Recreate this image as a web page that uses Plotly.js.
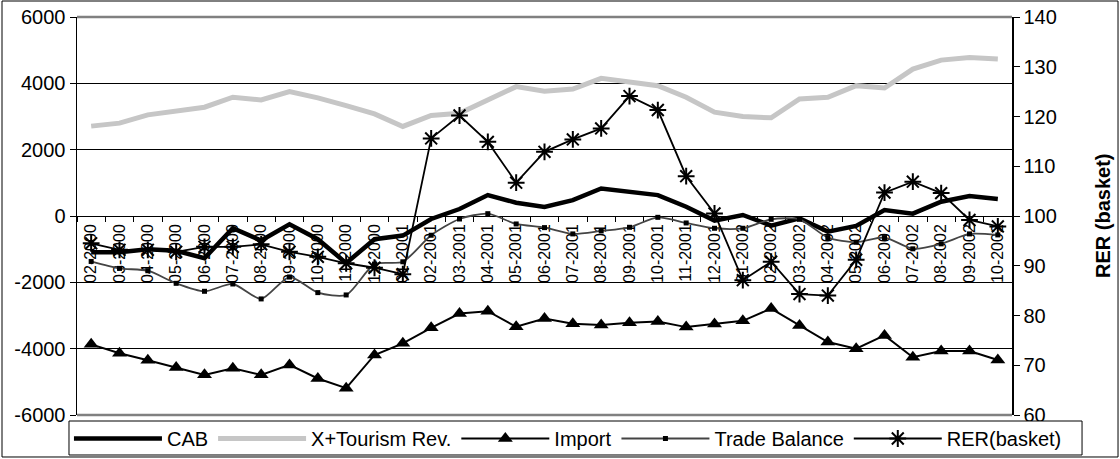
<!DOCTYPE html>
<html>
<head>
<meta charset="utf-8">
<script src="https://cdn.plot.ly/plotly-3.0.1.min.js"></script>
<style>html,body{margin:0;padding:0;background:#fff;}#chart{width:1120px;height:459px;}</style>
</head>
<body>
<div id="chart"></div>
<script>
const categories = ['02-2000','03-2000','04-2000','05-2000','06-2000','07-2000','08-2000','09-2000','10-2000','11-2000','12-2000',
  '01-2001','02-2001','03-2001','04-2001','05-2001','06-2001','07-2001','08-2001','09-2001','10-2001','11-2001','12-2001',
  '01-2002','02-2002','03-2002','04-2002','05-2002','06-2002','07-2002','08-2002','09-2002','10-2002'];
const cab = [-1090,-1090,-1000,-1050,-1270,-370,-740,-250,-700,-1420,-700,-590,-90,210,630,400,270,480,830,730,630,280,-140,30,-290,-70,-470,-300,180,70,430,600,510];
const xTourism = [2710,2800,3050,3150,3280,3580,3500,3750,3560,3330,3080,2700,3030,3100,3480,3900,3760,3830,4150,4030,3930,3580,3130,3000,2960,3530,3580,3930,3860,4430,4700,4780,4730];
const imports = [-3870,-4140,-4350,-4570,-4790,-4590,-4790,-4490,-4900,-5190,-4190,-3840,-3370,-2940,-2870,-3340,-3090,-3250,-3290,-3220,-3180,-3350,-3260,-3160,-2790,-3300,-3800,-4000,-3600,-4260,-4070,-4070,-4340];
const tradeBalance = [-1370,-1580,-1650,-2030,-2270,-2050,-2500,-1840,-2310,-2380,-1450,-1380,-580,-90,70,-240,-350,-540,-450,-340,-40,-210,-370,-370,-100,-100,-650,-790,-650,-990,-840,-540,-570];
const rer = [94.5,93.2,93.2,92.8,93.8,93.8,94.3,92.8,91.8,90.5,89.6,88.3,115.6,120.2,114.9,106.7,112.9,115.4,117.6,124.1,121.3,108.0,100.5,87.1,90.8,84.3,84.0,91.2,104.7,106.9,104.6,99.2,97.9];
const leftTickVals = [-6000,-4000,-2000,0,2000,4000,6000];
const leftTickText = ['-6000','-4000','-2000','0','2000','4000','6000'];
const rightTickVals = [60,70,80,90,100,110,120,130,140];
const rightTickText = ['60','70','80','90','100','110','120','130','140'];
const rightAxisTitle = 'RER (basket)';

const FONT = 'Liberation Sans, Arial, sans-serif';

const traces = [
  {x: categories, y: cab, name: 'CAB', type: 'scatter', mode: 'lines',
   line: {color: '#000', width: 4.5}},
  {x: categories, y: xTourism, name: 'X+Tourism Rev.', type: 'scatter', mode: 'lines',
   line: {color: '#c6c6c6', width: 5}},
  {x: categories, y: imports, name: 'Import', type: 'scatter', mode: 'lines+markers',
   line: {color: '#000', width: 2}, marker: {symbol: 'triangle-up', size: 13, color: '#000'}},
  {x: categories, y: tradeBalance, name: 'Trade Balance', type: 'scatter', mode: 'lines+markers',
   line: {color: '#444', width: 1.8, shape: 'spline', smoothing: 0.7},
   marker: {symbol: 'square', size: 5, color: '#000'}},
  {x: categories, y: rer, name: 'RER(basket)', type: 'scatter', mode: 'lines+markers', yaxis: 'y2',
   line: {color: '#000', width: 1.8},
   marker: {symbol: 'asterisk-open', size: 14, color: '#000', line: {color: '#000', width: 2}}}
];

const layout = {
  width: 1120, height: 459,
  margin: {l: 77, r: 108, t: 17, b: 44, pad: 0, autoexpand: false},
  paper_bgcolor: '#fff', plot_bgcolor: '#fff',
  font: {family: FONT, size: 20, color: '#000'},
  showlegend: true,
  legend: {orientation: 'h', x: -0.0086, xanchor: 'left', y: -0.01, yanchor: 'top',
    borderwidth: 0, bgcolor: 'rgba(0,0,0,0)', font: {family: FONT, size: 20},
    itemwidth: 88, traceorder: 'normal'},
  xaxis: {type: 'category', anchor: 'free', position: 0.5, range: [-0.5, 32.5],
    showgrid: false, showline: false, zeroline: false,
    ticks: 'outside', ticklen: 5, tickcolor: '#000', tickson: 'boundaries', ticklabelstandoff: 4,
    tickangle: -90, tickfont: {family: FONT, size: 16}, layer: 'below traces', automargin: false, fixedrange: true},
  yaxis: {range: [-6000, 6000], tickvals: leftTickVals, ticktext: leftTickText,
    showgrid: true, gridcolor: '#000', gridwidth: 1,
    zeroline: true, zerolinecolor: '#000', zerolinewidth: 1,
    showline: true, linecolor: '#000', linewidth: 1.5,
    ticks: 'outside', ticklen: 6, tickcolor: '#000',
    tickfont: {family: FONT, size: 20}, automargin: false, layer: 'below traces'},
  yaxis2: {overlaying: 'y', side: 'right', range: [60, 140],
    tickvals: rightTickVals, ticktext: rightTickText,
    showgrid: false, zeroline: false, showline: true, linecolor: '#000', linewidth: 1.5,
    ticks: 'outside', ticklen: 6, tickcolor: '#000',
    tickfont: {family: FONT, size: 20}, automargin: false},
  annotations: [
    {text: rightAxisTitle, xref: 'paper', yref: 'paper', x: 1.0973, y: 0.5, xanchor: 'center', yanchor: 'middle',
     textangle: -90, showarrow: false, font: {family: FONT, size: 20, weight: 'bold', color: '#000'}}
  ],
  shapes: [
    {type: 'line', xref: 'paper', yref: 'paper', x0: 0, x1: 1, y0: 1, y1: 1, line: {color: '#808080', width: 2.5}, layer: 'above'},
    {type: 'line', xref: 'paper', yref: 'paper', x0: 0, x1: 1, y0: 0, y1: 0, line: {color: '#808080', width: 2.5}, layer: 'above'},
    {type: 'rect', xref: 'paper', yref: 'paper', x0: -0.0802, x1: 1.1134, y0: -0.1055, y1: 1.0402,
     line: {color: '#000', width: 1}, fillcolor: 'rgba(0,0,0,0)', layer: 'below'},
    {type: 'rect', xref: 'paper', yref: 'paper', x0: -0.00856, x1: 1.0749, y0: -0.1005, y1: -0.0151,
     line: {color: '#000', width: 1}, fillcolor: '#fff', layer: 'above'}
  ]
};

Plotly.newPlot('chart', traces, layout, {displayModeBar: false, staticPlot: true});
</script>
</body>
</html>
